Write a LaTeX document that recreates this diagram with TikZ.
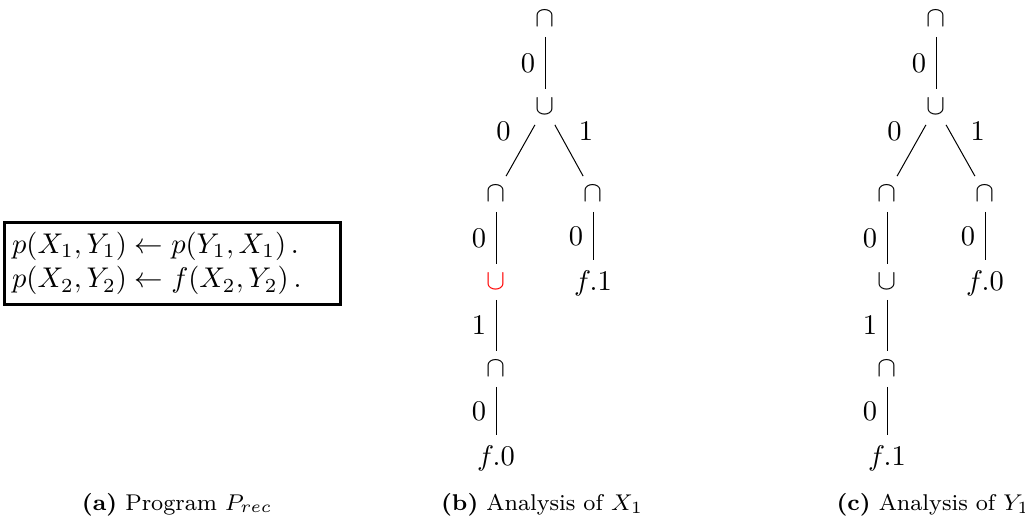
\documentclass[tikz,border=0pt]{standalone}
\usepackage{amsmath}

\begin{document}
\begin{tikzpicture}[x=0.351pt, y=-0.351pt, line width=0.35pt,
		tnode/.style={inner sep=3.33pt},
		subcap/.style={anchor=base, font=\footnotesize}]
		\useasboundingbox (0,0) rectangle (1025,516);

		% program box
		\node[draw, line width=1pt, align=left, text width=112.6pt, minimum height=29pt, inner xsep=2.7pt, inner ysep=2pt] (prog) at (172.5,263.5)
			{$p(X_1,Y_1) \leftarrow p(Y_1,X_1)\,.$\\ $p(X_2,Y_2) \leftarrow f(X_2,Y_2)\,.$};

		% analysis of X_1
		\node[tnode] (b0) at (545,19) {$\cap$};
		\node[tnode] (b1) at (545,107) {$\cup$};
		\node[tnode] (b2) at (496,194) {$\cap$};
		\node[tnode] (b3) at (593,194) {$\cap$};
		\node[tnode, text=red] (b4) at (496,282) {$\cup$};
		\node[tnode] (b5) at (496,369) {$\cap$};
		\node[tnode] (b6) at (496,458) {$f.0$};
		\node[tnode] (b7) at (593,283) {$f.1$};
		\draw (b0) -- node[left] {$0$} (b1);
		\draw (b1) -- node[above left] {$0$} (b2);
		\draw (b1) -- node[above right] {$1$} (b3);
		\draw (b2) -- node[left] {$0$} (b4);
		\draw (b4) -- node[left] {$1$} (b5);
		\draw (b5) -- node[left] {$0$} (b6);
		\draw (b3) -- node[left] {$0$} (b7);

		% analysis of Y_1
		\node[tnode] (c0) at (936,19) {$\cap$};
		\node[tnode] (c1) at (936,107) {$\cup$};
		\node[tnode] (c2) at (887,194) {$\cap$};
		\node[tnode] (c3) at (985,194) {$\cap$};
		\node[tnode] (c4) at (887,282) {$\cup$};
		\node[tnode] (c5) at (887,369) {$\cap$};
		\node[tnode] (c6) at (887,458) {$f.1$};
		\node[tnode] (c7) at (985,283) {$f.0$};
		\draw (c0) -- node[left] {$0$} (c1);
		\draw (c1) -- node[above left] {$0$} (c2);
		\draw (c1) -- node[above right] {$1$} (c3);
		\draw (c2) -- node[left] {$0$} (c4);
		\draw (c4) -- node[left] {$1$} (c5);
		\draw (c5) -- node[left] {$0$} (c6);
		\draw (c3) -- node[left] {$0$} (c7);

		% captions
		\node[subcap] (capa) at (177,510) {\textbf{(a)} Program $P_{rec}$};
		\node[subcap] (capb) at (542,510) {\textbf{(b)} Analysis of $X_1$};
		\node[subcap] (capc) at (933,510) {\textbf{(c)} Analysis of $Y_1$};

	\end{tikzpicture}
\end{document}
